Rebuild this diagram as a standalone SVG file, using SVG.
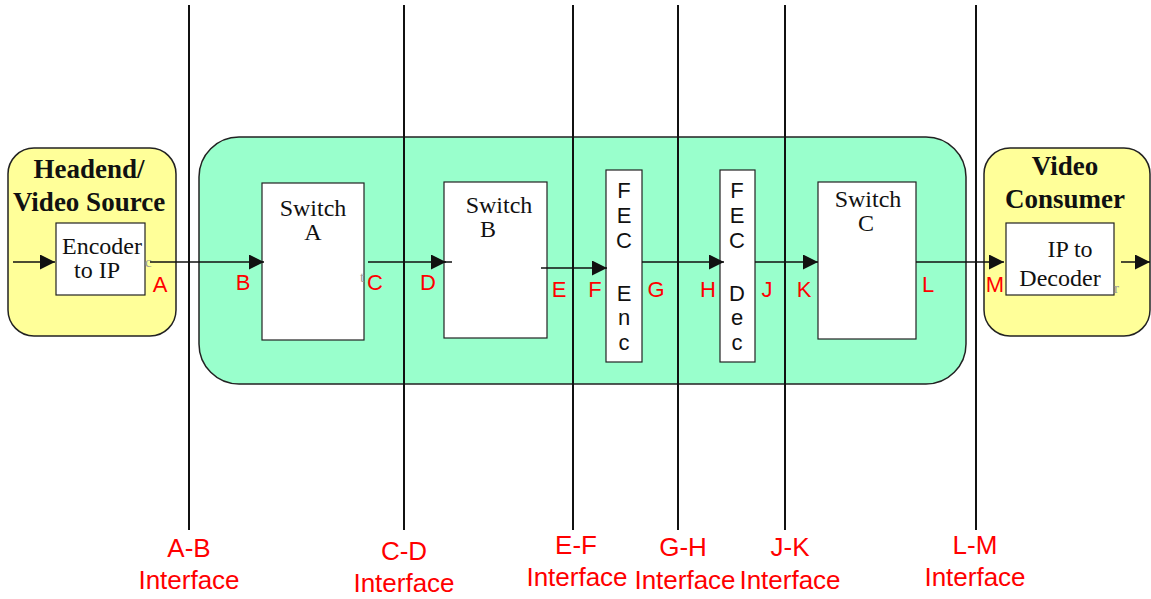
<svg xmlns="http://www.w3.org/2000/svg" width="1151" height="599" viewBox="0 0 1151 599">
<style>
.vl{stroke:#111;stroke-width:2}
.box{fill:#fff;stroke:#222;stroke-width:1.2}
.yb{fill:#ffff99;stroke:#222;stroke-width:1.5}
.ser{font-family:"Liberation Serif",serif;font-size:24px;fill:#111;text-anchor:middle}
.title{font-family:"Liberation Serif",serif;font-size:27px;font-weight:bold;fill:#111;text-anchor:middle}
.lab{font-family:"Liberation Sans",Arial,sans-serif;font-size:22px;fill:#ff0000;text-anchor:middle}
.ifc{font-family:"Liberation Sans",Arial,sans-serif;font-size:26px;fill:#ff0000;text-anchor:middle}
.fec{font-family:"Liberation Sans",Arial,sans-serif;font-size:22px;fill:#111;text-anchor:middle}
.tiny{font-family:"Liberation Serif",serif;font-size:15px;fill:#999}
.cn{stroke:#111;stroke-width:1.5;fill:none}
</style>
<defs>
<marker id="ah" viewBox="0 0 10 10" refX="10" refY="5" markerWidth="18" markerHeight="15" markerUnits="userSpaceOnUse" orient="auto">
<path d="M0,0 L10,5 L0,10 z" fill="#111"/>
</marker>
</defs>
<rect width="1151" height="599" fill="#fff"/>
<g id="network">
<rect x="199" y="137" width="767" height="247" rx="40" ry="40" fill="#99ffcc" stroke="#222" stroke-width="1.5"/>
</g>
<g id="headend">
<rect class="yb" x="8" y="148" width="168" height="188" rx="26" ry="26"/>
<text class="title" x="89" y="178">Headend/</text>
<text class="title" x="89" y="211">Video Source</text>
</g>
<g id="encoder">
<rect class="box" x="56" y="223" width="89" height="72"/>
<text class="ser" x="102" y="254">Encoder</text>
<text class="ser" x="97" y="278">to IP</text>
<text class="tiny" x="145" y="267">c</text>
</g>
<g id="consumer">
<rect class="yb" x="984" y="148" width="166" height="188" rx="26" ry="26"/>
<text class="title" x="1065" y="175">Video</text>
<text class="title" x="1065" y="208">Consumer</text>
</g>
<g id="decoder">
<rect class="box" x="1006" y="223" width="108" height="72"/>
<text class="ser" x="1070" y="257">IP to</text>
<text class="ser" x="1060" y="286">Decoder</text>
<text class="tiny" x="1114" y="293">r</text>
</g>
<g id="switchA">
<rect class="box" x="262" y="183" width="102" height="157"/>
<text class="ser" x="313" y="216">Switch</text>
<text class="ser" x="313" y="240">A</text>
<text class="tiny" x="360" y="282">t</text>
</g>
<g id="switchB">
<rect class="box" x="444" y="182" width="103" height="156"/>
<text class="ser" x="499" y="213">Switch</text>
<text class="ser" x="488" y="237">B</text>
</g>
<g id="fecEnc">
<rect class="box" x="606" y="170" width="36" height="192"/>
<text class="fec" x="624" y="198">F</text>
<text class="fec" x="624" y="223">E</text>
<text class="fec" x="624" y="248">C</text>
<text class="fec" x="624" y="301">E</text>
<text class="fec" x="624" y="325">n</text>
<text class="fec" x="624" y="350">c</text>
</g>
<g id="fecDec">
<rect class="box" x="720" y="170" width="35" height="192"/>
<text class="fec" x="737" y="198">F</text>
<text class="fec" x="737" y="223">E</text>
<text class="fec" x="737" y="248">C</text>
<text class="fec" x="737" y="301">D</text>
<text class="fec" x="737" y="325">e</text>
<text class="fec" x="737" y="350">c</text>
</g>
<g id="switchC">
<rect class="box" x="818" y="182" width="98" height="157"/>
<text class="ser" x="868" y="207">Switch</text>
<text class="ser" x="866" y="231">C</text>
</g>
<g id="interfaces">
<line class="vl" x1="189" y1="5" x2="189" y2="530"/>
<line class="vl" x1="404" y1="5" x2="404" y2="530"/>
<line class="vl" x1="573" y1="5" x2="573" y2="530"/>
<line class="vl" x1="678" y1="5" x2="678" y2="530"/>
<line class="vl" x1="785" y1="5" x2="785" y2="530"/>
<line class="vl" x1="976" y1="5" x2="976" y2="530"/>
<text class="ifc" x="189" y="557">A-B</text>
<text class="ifc" x="189" y="589">Interface</text>
<text class="ifc" x="404" y="560">C-D</text>
<text class="ifc" x="404" y="592">Interface</text>
<text class="ifc" x="576" y="554">E-F</text>
<text class="ifc" x="577" y="586">Interface</text>
<text class="ifc" x="683" y="556">G-H</text>
<text class="ifc" x="685" y="589">Interface</text>
<text class="ifc" x="790" y="556">J-K</text>
<text class="ifc" x="790" y="589">Interface</text>
<text class="ifc" x="975" y="554">L-M</text>
<text class="ifc" x="975" y="586">Interface</text>
</g>
<g id="connectors">
<line class="cn" x1="13" y1="262" x2="55" y2="262" marker-end="url(#ah)"/>
<line class="cn" x1="150" y1="262" x2="264" y2="262" marker-end="url(#ah)"/>
<line class="cn" x1="368" y1="262" x2="446" y2="262" marker-end="url(#ah)"/>
<line class="cn" x1="440" y1="262" x2="452" y2="262"/>
<line class="cn" x1="541" y1="268" x2="607" y2="268" stroke-width="2" marker-end="url(#ah)"/>
<line class="cn" x1="642" y1="262" x2="724" y2="262" stroke-width="2" marker-end="url(#ah)"/>
<line class="cn" x1="755" y1="262" x2="818" y2="262" stroke-width="2" marker-end="url(#ah)"/>
<line class="cn" x1="916" y1="262" x2="1004" y2="262" marker-end="url(#ah)"/>
<line class="cn" x1="1121" y1="262" x2="1150" y2="262" marker-end="url(#ah)"/>
</g>
<g id="points">
<text class="lab" x="160" y="292">A</text>
<text class="lab" x="243" y="290">B</text>
<text class="lab" x="375" y="290">C</text>
<text class="lab" x="428" y="290">D</text>
<text class="lab" x="559" y="297">E</text>
<text class="lab" x="595" y="297">F</text>
<text class="lab" x="656" y="297">G</text>
<text class="lab" x="708" y="297">H</text>
<text class="lab" x="767" y="297">J</text>
<text class="lab" x="804" y="297">K</text>
<text class="lab" x="928" y="292">L</text>
<text class="lab" x="995" y="292">M</text>
</g>
</svg>
